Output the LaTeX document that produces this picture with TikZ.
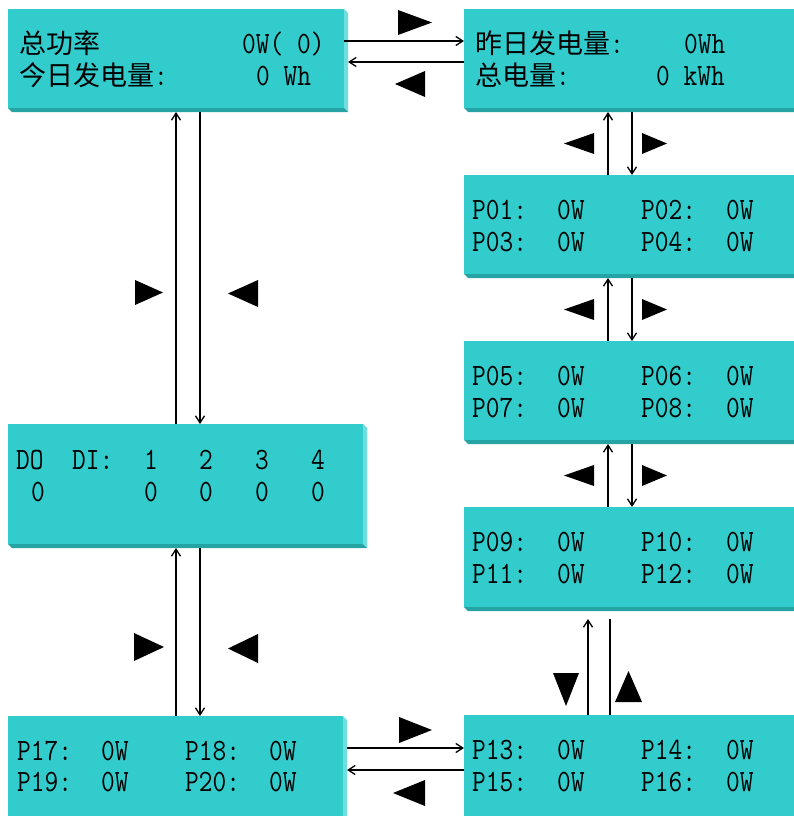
\documentclass[tikz,border=0pt]{standalone}
\usepackage{fontspec}
\usepackage{graphicx}
\newfontfamily\cjkfont{Noto Sans CJK SC}
\newcommand\nar[1]{\scalebox{0.86}[1]{#1}}
\usetikzlibrary{arrows.meta,calc}
\definecolor{tealmain}{RGB}{51,204,204}
\definecolor{tealright}{RGB}{110,222,222}
\definecolor{tealbottom}{RGB}{38,163,163}
\tikzset{
  panel/.style={fill=tealmain, draw=none, inner sep=0pt, outer sep=0pt, anchor=north west},
  lat/.style={font=\fontsize{31}{31}\selectfont\ttfamily, inner sep=0pt, anchor=base west},
  dig/.style={font=\fontsize{31}{31}\selectfont\ttfamily, inner sep=0pt, anchor=base},
  arr/.style={line width=1.7pt, -{Straight Barb[length=7pt,width=9pt,line width=1.3pt]}},
  ln/.style={line width=1.7pt},
}
\newcommand\cjk[1]{{\cjkfont\fontsize{27}{27}\selectfont #1}}
% name, x1, y1, x2, y2, width, height
\newcommand\panelbox[7]{%
  \fill[tealright] (#4,#3) -- (#4+4,#3+4) -- (#4+4,#5+4) -- (#4,#5) -- cycle;
  \fill[tealbottom] (#2,#5) -- (#4,#5) -- (#4+4,#5+4) -- (#2+4,#5+4) -- cycle;
  \node[panel, minimum width=#6pt, minimum height=#7pt] (#1) at (#2,#3) {};
}
% triangles: x1 x2 y1 y2
\newcommand\triR[4]{\fill (#1,#3) -- (#2,{(#3+#4)/2}) -- (#1,#4) -- cycle;}
\newcommand\triL[4]{\fill (#2,#3) -- (#1,{(#3+#4)/2}) -- (#2,#4) -- cycle;}
\newcommand\triD[4]{\fill (#1,#3) -- (#2,#3) -- ({(#1+#2)/2},#4) -- cycle;}
\newcommand\triU[4]{\fill (#1,#4) -- (#2,#4) -- ({(#1+#2)/2},#3) -- cycle;}
\begin{document}
\begin{tikzpicture}[x=1pt,y=-1pt]
\useasboundingbox (0,0) rectangle (793,816);
% panels
\panelbox{A}{8}{9}{344}{108}{336}{99}
\panelbox{B}{464}{9}{800}{108}{336}{99}
\panelbox{P01}{464}{175}{800}{274}{336}{99}
\panelbox{P05}{464}{341}{800}{440}{336}{99}
\panelbox{P09}{464}{507}{800}{607}{336}{100}
\panelbox{DO}{8}{424}{363}{544}{355}{120}
\panelbox{P17}{8}{716}{343}{830}{335}{114}
\panelbox{P13}{464}{715}{800}{830}{336}{115}
% texts box A
\node[lat] (a1) at (19,53) {\cjk{总功率}};
\node[lat] (a2) at (242,53) {\nar{0W( 0)}};
\node[lat] (a3) at (19,85) {\cjk{今日发电量}\nar{:}};
\node[lat] (a4) at (256,85) {\nar{0 Wh}};
% box B
\node[lat] (b1) at (475,53) {\cjk{昨日发电量}\nar{:}};
\node[lat] (b2) at (684,53) {\nar{0Wh}};
\node[lat] (b3) at (475,85) {\cjk{总电量}\nar{:}};
\node[lat] (b4) at (656,85) {\nar{0 kWh}};
% P boxes right column
\foreach \nm/\yy/\a/\b/\c/\d in {p1/219/P01/P02/P03/P04, p5/385/P05/P06/P07/P08, p9/551/P09/P10/P11/P12, p13/759/P13/P14/P15/P16}{
  \node[lat] (\nm a) at (472,\yy) {\nar{\a:}};
  \node[lat] (\nm b) at (557,\yy) {\nar{0W}};
  \node[lat] (\nm c) at (641,\yy) {\nar{\b:}};
  \node[lat] (\nm d) at (726,\yy) {\nar{0W}};
  \node[lat] (\nm e) at (472,\yy+32) {\nar{\c:}};
  \node[lat] (\nm f) at (557,\yy+32) {\nar{0W}};
  \node[lat] (\nm g) at (641,\yy+32) {\nar{\d:}};
  \node[lat] (\nm h) at (726,\yy+32) {\nar{0W}};
}
% P17 box
\node[lat] (q1) at (17,760) {\nar{P17:}};
\node[lat] (q2) at (101,760) {\nar{0W}};
\node[lat] (q3) at (185,760) {\nar{P18:}};
\node[lat] (q4) at (269,760) {\nar{0W}};
\node[lat] (q5) at (17,791) {\nar{P19:}};
\node[lat] (q6) at (101,791) {\nar{0W}};
\node[lat] (q7) at (185,791) {\nar{P20:}};
\node[lat] (q8) at (269,791) {\nar{0W}};
% DO box
\node[lat] (d1) at (16,469) {\nar{DO}};
\node[lat] (d2) at (72,469) {\nar{DI:}};
\node[dig] (d3) at (151,469) {\nar{1}};
\node[dig] (d4) at (206,469) {\nar{2}};
\node[dig] (d5) at (262,469) {\nar{3}};
\node[dig] (d6) at (318,469) {\nar{4}};
\node[dig] (d7) at (38,501) {\nar{0}};
\node[dig] (d8) at (151,501) {\nar{0}};
\node[dig] (d9) at (206,501) {\nar{0}};
\node[dig] (d10) at (262,501) {\nar{0}};
\node[dig] (d11) at (318,501) {\nar{0}};
% connectors A-B
\draw[arr] (A.east |- 0,41) -- (B.west |- 0,41);
\draw[arr] (B.west |- 0,62) -- ($(A.east |- 0,62)+(4,0)$);
% A-DO
\draw[arr] (DO.north -| 176,0) -- ($(A.south -| 176,0)+(0,4)$);
\draw[arr] ($(A.south -| 200,0)+(0,4)$) -- (DO.north -| 200,0);
% DO-P17
\draw[arr] (P17.north -| 176,0) -- ($(DO.south -| 176,0)+(0,4)$);
\draw[arr] ($(DO.south -| 200,0)+(0,4)$) -- (P17.north -| 200,0);
% right column
\draw[arr] (P01.north -| 608,0) -- ($(B.south -| 608,0)+(0,4)$);
\draw[arr] ($(B.south -| 632,0)+(0,4)$) -- (P01.north -| 632,0);
\draw[arr] (P05.north -| 608,0) -- ($(P01.south -| 608,0)+(0,4)$);
\draw[arr] ($(P01.south -| 632,0)+(0,4)$) -- (P05.north -| 632,0);
\draw[arr] (P09.north -| 608,0) -- ($(P05.south -| 608,0)+(0,4)$);
\draw[arr] ($(P05.south -| 632,0)+(0,4)$) -- (P09.north -| 632,0);
% P09-P13
\coordinate (g1) at ($(P09.south -| 588,0)+(0,12)$);
\coordinate (g2) at ($(P09.south -| 610,0)+(0,12)$);
\draw[arr] (P13.north -| 588,0) -- (g1);
\draw[ln] (P13.north -| 610,0) -- (g2);
% P17-P13
\draw[arr] ($(P17.east |- 0,748)+(4,0)$) -- (P13.west |- 0,748);
\draw[arr] (P13.west |- 0,770) -- ($(P17.east |- 0,770)+(4,0)$);
% triangles
\triR{398}{432}{10}{35}
\triL{395}{425}{71}{97}
\triR{135}{163}{280}{305}
\triL{228}{258}{280}{307}
\triR{134}{164}{633}{661}
\triL{228}{258}{634}{663}
\triR{399}{432}{717}{743}
\triL{393}{425}{780}{806}
\triL{564}{594}{133}{154}
\triR{642}{667}{133}{154}
\triL{564}{594}{299}{320}
\triR{642}{667}{299}{320}
\triL{564}{594}{465}{486}
\triR{642}{667}{465}{486}
\triD{553}{579}{673}{706}
\triU{615}{642}{671}{702}
\end{tikzpicture}
\end{document}
